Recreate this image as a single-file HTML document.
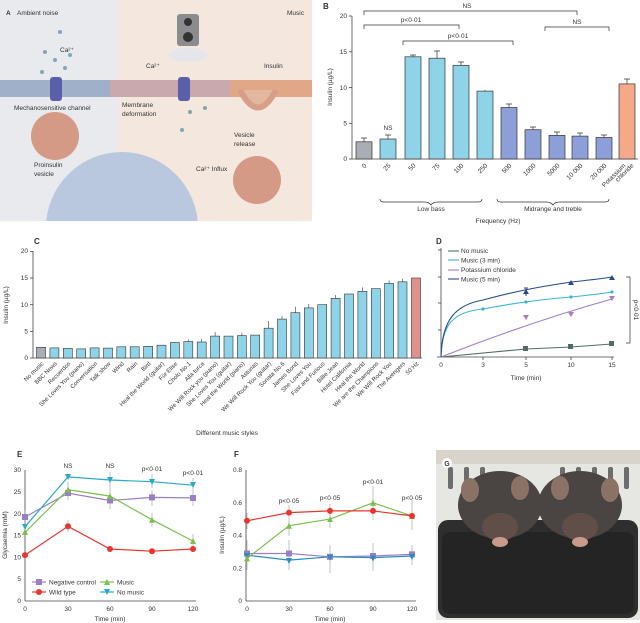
<!DOCTYPE html>
<html><head><meta charset="utf-8"><style>
html,body{margin:0;padding:0;background:#fff}
svg{display:block;font-family:"Liberation Sans",sans-serif}
</style></head><body>
<svg width="640" height="623" viewBox="0 0 640 623" xmlns="http://www.w3.org/2000/svg">
<defs><clipPath id="ca"><rect x="0" y="0" width="312" height="221"/></clipPath></defs>
<!-- Panel A -->
<g clip-path="url(#ca)">
<rect x="0" y="0" width="312" height="221" fill="#e9eaee"/>
<rect x="118" y="0" width="194" height="221" fill="#f4e7de"/>
<circle cx="122" cy="228" r="76" fill="#b9c8de"/>
<rect x="0" y="80" width="312" height="17" fill="#c9a9ae"/>
<rect x="0" y="80" width="110" height="17" fill="#9fb0c8"/>
<rect x="230" y="80" width="82" height="17" fill="#e0a888"/>
<path d="M240,90 Q258,125 276,90" fill="#e4b79f" stroke="#d79e88" stroke-width="6"/>
<rect x="50" y="77" width="12" height="24" rx="3" fill="#5b5fa8"/>
<rect x="178" y="77" width="12" height="24" rx="3" fill="#5b5fa8"/>
<rect x="177" y="14" width="22" height="32" rx="3" fill="#8c8c90"/>
<circle cx="188" cy="22" r="4" fill="#333"/><circle cx="188" cy="37" r="5" fill="#333"/>
<ellipse cx="188" cy="55" rx="20" ry="7" fill="#e6e6ea"/>
<circle cx="55" cy="136" r="24" fill="#d49a86"/>
<circle cx="257" cy="180" r="24" fill="#d49a86"/>
<g fill="#7fa8b5"><circle cx="60" cy="32" r="2"/><circle cx="45" cy="52" r="2"/><circle cx="55" cy="60" r="2"/><circle cx="65" cy="68" r="2"/><circle cx="42" cy="72" r="2"/><circle cx="70" cy="55" r="2"/><circle cx="190" cy="112" r="2"/><circle cx="182" cy="130" r="2"/><circle cx="205" cy="108" r="2"/></g>
<g font-size="6.5" fill="#333">
<text x="6" y="15" font-weight="bold">A</text><text x="17" y="15">Ambient noise</text>
<text x="287" y="15">Music</text>
<text x="60" y="52">Ca²⁺</text><text x="146" y="68">Ca²⁺</text>
<text x="264" y="68">Insulin</text>
<text x="14" y="110">Mechanosensitive channel</text>
<text x="122" y="107">Membrane</text><text x="122" y="116">deformation</text>
<text x="234" y="137">Vesicle</text><text x="234" y="146">release</text>
<text x="196" y="171">Ca²⁺ Influx</text>
<text x="34" y="167">Proinsulin</text><text x="34" y="176">vesicle</text>
</g>
</g>
<!-- Panel B -->
<g font-size="6.5" fill="#333">
<text x="323" y="9" font-weight="bold" font-size="8">B</text>
<line x1="352" y1="16" x2="352" y2="159" stroke="#444" stroke-width="0.8"/>
<line x1="352" y1="159" x2="638" y2="159" stroke="#444" stroke-width="0.8"/>
<g stroke="#444" stroke-width="0.8"><line x1="349" y1="159" x2="352" y2="159"/><line x1="349" y1="123.3" x2="352" y2="123.3"/><line x1="349" y1="87.5" x2="352" y2="87.5"/><line x1="349" y1="51.8" x2="352" y2="51.8"/><line x1="349" y1="16" x2="352" y2="16"/></g>
<g text-anchor="end"><text x="347" y="161">0</text><text x="347" y="125.5">5</text><text x="347" y="90">10</text><text x="347" y="54">15</text><text x="347" y="18">20</text></g>
<text transform="translate(332,87) rotate(-90)" text-anchor="middle">Insulin (µg/L)</text>
<g stroke="#333" stroke-width="0.7">
<rect x="356" y="141.8" width="16" height="17.2" fill="#a9adb4"/>
<rect x="380" y="139" width="16" height="20" fill="#8fd3e8"/>
<rect x="405" y="56.8" width="16" height="102.2" fill="#8fd3e8"/>
<rect x="429" y="58.2" width="16" height="100.8" fill="#8fd3e8"/>
<rect x="453" y="65.3" width="16" height="93.7" fill="#8fd3e8"/>
<rect x="477" y="91.1" width="16" height="67.9" fill="#8fd3e8"/>
<rect x="501" y="107.5" width="16" height="51.5" fill="#8d9fd8"/>
<rect x="525" y="129.7" width="16" height="29.3" fill="#8d9fd8"/>
<rect x="549" y="135.4" width="16" height="23.6" fill="#8d9fd8"/>
<rect x="572" y="136.1" width="16" height="22.9" fill="#8d9fd8"/>
<rect x="596" y="137.5" width="16" height="21.5" fill="#8d9fd8"/>
<rect x="619" y="83.9" width="16" height="75.1" fill="#f5a98a"/>
<path d="M364,141.8V138M361,138h6M388,139V135M385,135h6M413,56.8V55M410,55h6M437,58.2V51M434,51h6M461,65.3V62M458,62h6M485,91V90M509,107.5V104M506,104h6M533,129.7V127M530,127h6M557,135.4V132M554,132h6M580,136V133M577,133h6M604,137.5V135M601,135h6M627,83.9V79M624,79h6" fill="none"/>
<path d="M364,15V11H577V15M364,29V25H459V29M403,45V41H513V45M545,31V27H609V31" fill="none"/>
<path d="M380,199q0,3 4,3h40q5,0 7,3q2,-3 7,-3h40q4,0 4,-3M497,199q0,3 4,3h45q5,0 7,3q2,-3 7,-3h45q4,0 4,-3" fill="none"/>
</g>
<text x="467" y="8" text-anchor="middle">NS</text>
<text x="411" y="22" text-anchor="middle">p&lt;0·01</text>
<text x="458" y="38" text-anchor="middle">p&lt;0·01</text>
<text x="577" y="24" text-anchor="middle">NS</text>
<text x="388" y="130" text-anchor="middle">NS</text>
<g text-anchor="end">
<text transform="translate(367,166) rotate(-45)">0</text>
<text transform="translate(391,166) rotate(-45)">25</text>
<text transform="translate(416,166) rotate(-45)">50</text>
<text transform="translate(440,166) rotate(-45)">75</text>
<text transform="translate(464,166) rotate(-45)">100</text>
<text transform="translate(488,166) rotate(-45)">250</text>
<text transform="translate(512,166) rotate(-45)">500</text>
<text transform="translate(536,166) rotate(-45)">1000</text>
<text transform="translate(560,166) rotate(-45)">5000</text>
<text transform="translate(583,166) rotate(-45)">10 000</text>
<text transform="translate(607,166) rotate(-45)">20 000</text>
<text transform="translate(626,166) rotate(-45)">Potassium</text>
<text transform="translate(634,166) rotate(-45)">chloride</text>
</g>
<text x="431" y="211" text-anchor="middle">Low bass</text>
<text x="553" y="211" text-anchor="middle">Midrange and treble</text>
<text x="498" y="223" text-anchor="middle">Frequency (Hz)</text>
</g>
<!-- Panel C -->
<g font-size="6.5" fill="#333">
<text x="34" y="244" font-weight="bold" font-size="8">C</text>
<line x1="33" y1="251" x2="33" y2="358" stroke="#444" stroke-width="0.8"/>
<line x1="33" y1="358" x2="422" y2="358" stroke="#444" stroke-width="0.8"/>
<g stroke="#444" stroke-width="0.8"><line x1="30" y1="358" x2="33" y2="358"/><line x1="30" y1="331.4" x2="33" y2="331.4"/><line x1="30" y1="304.7" x2="33" y2="304.7"/><line x1="30" y1="278" x2="33" y2="278"/><line x1="30" y1="251.4" x2="33" y2="251.4"/></g>
<g text-anchor="end"><text x="28" y="360">0</text><text x="28" y="333.5">5</text><text x="28" y="307">10</text><text x="28" y="280">15</text><text x="28" y="253">20</text></g>
<text transform="translate(8,305) rotate(-90)" text-anchor="middle">Insulin (µg/L)</text>
<g stroke="#333" stroke-width="0.6" fill="#8fd3e8">
<rect x="36.5" y="347.3" width="9" height="10.7" fill="#a9adb4"/>
<rect x="49.9" y="347.9" width="9" height="10.1"/>
<rect x="63.3" y="348.4" width="9" height="9.6"/>
<rect x="76.7" y="348.9" width="9" height="9.1"/>
<rect x="90.1" y="347.9" width="9" height="10.1"/>
<rect x="103.5" y="348.1" width="9" height="9.9"/>
<rect x="116.8" y="346.8" width="9" height="11.2"/>
<rect x="130.2" y="346.8" width="9" height="11.2"/>
<rect x="143.6" y="346.3" width="9" height="11.7"/>
<rect x="157" y="345.2" width="9" height="12.8"/>
<rect x="170.4" y="342.5" width="9" height="15.5"/>
<rect x="183.8" y="341.5" width="9" height="16.5"/>
<rect x="197.2" y="342" width="9" height="16"/>
<rect x="210.6" y="336.1" width="9" height="21.9"/>
<rect x="224" y="336.1" width="9" height="21.9"/>
<rect x="237.4" y="335.6" width="9" height="22.4"/>
<rect x="250.7" y="335.1" width="9" height="22.9"/>
<rect x="264.1" y="328.2" width="9" height="29.8"/>
<rect x="277.5" y="319.1" width="9" height="38.9"/>
<rect x="290.9" y="312.7" width="9" height="45.3"/>
<rect x="304.3" y="307.9" width="9" height="50.1"/>
<rect x="317.7" y="304.7" width="9" height="53.3"/>
<rect x="331.1" y="298.3" width="9" height="59.7"/>
<rect x="344.5" y="294" width="9" height="64"/>
<rect x="357.9" y="291.4" width="9" height="66.6"/>
<rect x="371.3" y="288.7" width="9" height="69.3"/>
<rect x="384.6" y="283.4" width="9" height="74.6"/>
<rect x="398" y="281.8" width="9" height="76.2"/>
<rect x="411.5" y="278" width="9" height="80" fill="#e0918c"/>
<path d="M188.3,341.5v-2M201.7,342v-3M215.1,336v-4M241.9,335.6v-3M268.6,328v-7M282,319v-3M295.4,312.7v-6M308.8,308v-4M335.6,298v-3M362.4,291.4v-4M389.1,283.4v-3M402.5,281.8v-3" fill="none"/>
</g>
<g text-anchor="end" font-size="6">
<text transform="translate(44,364) rotate(-45)">No music</text>
<text transform="translate(57.4,364) rotate(-45)">BBC News</text>
<text transform="translate(70.8,364) rotate(-45)">Recuerdos</text>
<text transform="translate(84.2,364) rotate(-45)">She Loves You (piano)</text>
<text transform="translate(97.6,364) rotate(-45)">Conversation</text>
<text transform="translate(111,364) rotate(-45)">Talk show</text>
<text transform="translate(124.3,364) rotate(-45)">Wind</text>
<text transform="translate(137.7,364) rotate(-45)">Rain</text>
<text transform="translate(151.1,364) rotate(-45)">Bird</text>
<text transform="translate(164.5,364) rotate(-45)">Heal the World (guitar)</text>
<text transform="translate(177.9,364) rotate(-45)">Für Elise</text>
<text transform="translate(191.3,364) rotate(-45)">Cholo No.1</text>
<text transform="translate(204.7,364) rotate(-45)">Alla turca</text>
<text transform="translate(218.1,364) rotate(-45)">We Will Rock you (piano)</text>
<text transform="translate(231.5,364) rotate(-45)">She Loves You (guitar)</text>
<text transform="translate(244.9,364) rotate(-45)">Heal the World (piano)</text>
<text transform="translate(258.2,364) rotate(-45)">Asturias</text>
<text transform="translate(271.6,364) rotate(-45)">We Will Rock You (guitar)</text>
<text transform="translate(285,364) rotate(-45)">Sonata No.6</text>
<text transform="translate(298.4,364) rotate(-45)">James Bond</text>
<text transform="translate(311.8,364) rotate(-45)">She Loves You</text>
<text transform="translate(325.2,364) rotate(-45)">Fast and Furious</text>
<text transform="translate(338.6,364) rotate(-45)">Billie Jean</text>
<text transform="translate(352,364) rotate(-45)">Hotel California</text>
<text transform="translate(365.4,364) rotate(-45)">Heal the World</text>
<text transform="translate(378.8,364) rotate(-45)">We are the Champions</text>
<text transform="translate(392.1,364) rotate(-45)">We Will Rock You</text>
<text transform="translate(405.5,364) rotate(-45)">The Avengers</text>
<text transform="translate(419,364) rotate(-45)">50 Hz</text>
</g>
<text x="227" y="435" text-anchor="middle">Different music styles</text>
</g>
<!-- Panel D -->
<g font-size="6.5" fill="#333">
<text x="436" y="244" font-weight="bold" font-size="8">D</text>
<line x1="441" y1="248" x2="441" y2="357" stroke="#444" stroke-width="0.8"/>
<line x1="437" y1="357" x2="614" y2="357" stroke="#444" stroke-width="0.8"/>
<g stroke="#444" stroke-width="0.8"><line x1="438" y1="330" x2="441" y2="330"/><line x1="438" y1="303" x2="441" y2="303"/><line x1="438" y1="277" x2="441" y2="277"/><line x1="438" y1="250" x2="441" y2="250"/>
<line x1="483" y1="357" x2="483" y2="360"/><line x1="526" y1="357" x2="526" y2="360"/><line x1="571" y1="357" x2="571" y2="360"/><line x1="612" y1="357" x2="612" y2="360"/></g>
<g text-anchor="middle"><text x="441" y="367">0</text><text x="483" y="367">3</text><text x="526" y="367">5</text><text x="571" y="367">10</text><text x="612" y="367">15</text></g>
<text x="526" y="380" text-anchor="middle">Time (min)</text>
<g fill="none" stroke-width="1.1">
<path d="M441,357L526,349L571,347L612,344" stroke="#4f6e6a"/>
<path d="M441,357Q530,322 612,299" stroke="#a77cc9"/>
<path d="M441,357C442,325 452,312 483,309C520,302 545,299 571,297C590,295 600,294 612,292" stroke="#3bb6d0"/>
<path d="M441,357C442,320 455,305 483,300C520,290 545,286 571,282C590,280 600,279 612,277" stroke="#2a4a8a"/>
<line x1="448" y1="251" x2="459" y2="251" stroke="#4f6e6a"/>
<line x1="448" y1="260" x2="459" y2="260" stroke="#3bb6d0"/>
<line x1="448" y1="270" x2="459" y2="270" stroke="#a77cc9"/>
<line x1="448" y1="279" x2="459" y2="279" stroke="#2a4a8a"/>
<path d="M626,277h4V343h-4" stroke="#333" stroke-width="0.7"/>
</g>
<g fill="#4f6e6a"><rect x="523" y="346" width="5" height="5"/><rect x="568" y="344" width="5" height="5"/><rect x="609" y="341" width="5" height="5"/></g>
<g fill="#a77cc9"><path d="M523,315h6l-3,5z"/><path d="M568,312h6l-3,5z"/><path d="M609,296h6l-3,5z"/></g>
<g fill="#3bb6d0"><circle cx="483" cy="309" r="1.6"/><circle cx="526" cy="302" r="1.6"/><circle cx="571" cy="297" r="1.6"/><circle cx="612" cy="292" r="1.6"/></g>
<g fill="#2a4a8a"><path d="M523,294h6l-3,-5z"/><path d="M568,285h6l-3,-5z"/><path d="M609,280h6l-3,-5z"/><path d="M526,288v8M524,288h4" stroke="#2a4a8a"/></g>
<text x="461" y="253">No music</text><text x="461" y="262.5">Music (3 min)</text><text x="461" y="272">Potassium chloride</text><text x="461" y="281.5">Music (5 min)</text>
<text transform="translate(634,310) rotate(90)" text-anchor="middle">p&lt;0·01</text>
</g>
<!-- Panel E -->
<g font-size="6.5" fill="#333">
<text x="17" y="457" font-weight="bold" font-size="8">E</text>
<line x1="25" y1="470" x2="25" y2="601" stroke="#444" stroke-width="0.8"/>
<line x1="25" y1="601" x2="196" y2="601" stroke="#444" stroke-width="0.8"/>
<g text-anchor="end"><text x="21" y="603">0</text><text x="21" y="581">5</text><text x="21" y="559.5">10</text><text x="21" y="537.5">15</text><text x="21" y="516">20</text><text x="21" y="494">25</text><text x="21" y="472">30</text></g>
<g text-anchor="middle"><text x="25" y="611">0</text><text x="68" y="611">30</text><text x="110" y="611">60</text><text x="152" y="611">90</text><text x="193" y="611">120</text></g>
<text x="110" y="621" text-anchor="middle">Time (min)</text>
<text transform="translate(7,535) rotate(-90)" text-anchor="middle">Glycaemia (mM)</text>
<text x="68" y="468" text-anchor="middle">NS</text><text x="110" y="468" text-anchor="middle">NS</text>
<text x="152" y="471" text-anchor="middle">p&lt;0·01</text><text x="193" y="475" text-anchor="middle">p&lt;0·01</text>
<g fill="none" stroke-width="1.2">
<polyline points="25,517.1 68,493.1 110,500.5 152,497.4 193,497.9" stroke="#9b7fc6"/>
<polyline points="25,555.1 68,526.3 110,549 152,551.2 193,549" stroke="#e8352e"/>
<polyline points="25,532.4 68,489.6 110,496.1 152,519.7 193,541.1" stroke="#7bbf4e"/>
<polyline points="25,526.7 68,476.9 110,480 152,481.7 193,485.2" stroke="#2aa9c9"/>
<path d="M68,486v14M110,493v16M152,490v16M193,488v18M68,482v16M110,488v14M152,513v14M193,534v14M68,520v12M25,510v14M110,472v16M152,474v14M193,478v14" stroke="#999" stroke-width="0.6"/>
</g>
<g fill="#9b7fc6"><rect x="22" y="514" width="6" height="6"/><rect x="65" y="490" width="6" height="6"/><rect x="107" y="497.5" width="6" height="6"/><rect x="149" y="494.4" width="6" height="6"/><rect x="190" y="495" width="6" height="6"/></g>
<g fill="#e8352e"><circle cx="25" cy="555.1" r="3"/><circle cx="68" cy="526.3" r="3"/><circle cx="110" cy="549" r="3"/><circle cx="152" cy="551.2" r="3"/><circle cx="193" cy="549" r="3"/></g>
<g fill="#7bbf4e"><path d="M22,535h6l-3,-6z"/><path d="M65,492.6h6l-3,-6z"/><path d="M107,499h6l-3,-6z"/><path d="M149,522.7h6l-3,-6z"/><path d="M190,544h6l-3,-6z"/></g>
<g fill="#2aa9c9"><path d="M22,524h6l-3,6z"/><path d="M65,474h6l-3,6z"/><path d="M107,477h6l-3,6z"/><path d="M149,479h6l-3,6z"/><path d="M190,482h6l-3,6z"/></g>
<line x1="32" y1="582" x2="46" y2="582" stroke="#9b7fc6" stroke-width="1.2"/><rect x="36" y="579" width="6" height="6" fill="#9b7fc6"/>
<line x1="32" y1="592" x2="46" y2="592" stroke="#e8352e" stroke-width="1.2"/><circle cx="39" cy="592" r="3" fill="#e8352e"/>
<line x1="100" y1="582" x2="114" y2="582" stroke="#7bbf4e" stroke-width="1.2"/><path d="M104,585h6l-3,-6z" fill="#7bbf4e"/>
<line x1="100" y1="592" x2="114" y2="592" stroke="#2aa9c9" stroke-width="1.2"/><path d="M104,589h6l-3,6z" fill="#2aa9c9"/>
<text x="49" y="584.5">Negative control</text><text x="49" y="594.5">Wild type</text>
<text x="117" y="584.5">Music</text><text x="117" y="594.5">No music</text>
</g>
<!-- Panel F -->
<g font-size="6.5" fill="#333">
<text x="234" y="457" font-weight="bold" font-size="8">F</text>
<line x1="246" y1="470" x2="246" y2="601" stroke="#444" stroke-width="0.8"/>
<line x1="246" y1="601" x2="416" y2="601" stroke="#444" stroke-width="0.8"/>
<g text-anchor="end"><text x="242" y="603">0</text><text x="242" y="570.5">0.2</text><text x="242" y="537.5">0.4</text><text x="242" y="505">0.6</text><text x="242" y="472">0.8</text></g>
<g text-anchor="middle"><text x="247" y="611">0</text><text x="289" y="611">30</text><text x="330" y="611">60</text><text x="373" y="611">90</text><text x="412" y="611">120</text></g>
<text x="330" y="621" text-anchor="middle">Time (min)</text>
<text transform="translate(224,535) rotate(-90)" text-anchor="middle">Insulin (µg/L)</text>
<text x="289" y="503" text-anchor="middle">p&lt;0·05</text><text x="330" y="500" text-anchor="middle">p&lt;0·05</text>
<text x="373" y="484" text-anchor="middle">p&lt;0·01</text><text x="412" y="500" text-anchor="middle">p&lt;0·05</text>
<g fill="none" stroke-width="1.2">
<path d="M247,513v16M289,505v14M330,504v14M373,507v10M412,509v14M289,516v20M330,512v16M373,486v34M412,500v30M247,540v30M289,540v30M330,545v28M373,543v28M412,545v20M289,548v22M330,546v26" stroke="#999" stroke-width="0.6"/>
<polyline points="247,553.5 289,553.5 330,556.8 373,556 412,554.3" stroke="#9b7fc6"/>
<polyline points="247,555.2 289,560.1 330,556.8 373,557.6 412,556" stroke="#2a8cc0"/>
<polyline points="247,558.4 289,525.7 330,519.1 373,502.8 412,515.9" stroke="#7bbf4e"/>
<polyline points="247,520.8 289,512.6 330,510.9 373,510.9 412,515.9" stroke="#e8352e"/>
</g>
<g fill="#9b7fc6"><rect x="244" y="550.5" width="6" height="6"/><rect x="286" y="550.5" width="6" height="6"/><rect x="327" y="553.8" width="6" height="6"/><rect x="370" y="553" width="6" height="6"/><rect x="409" y="551.3" width="6" height="6"/></g>
<g fill="#2a8cc0"><path d="M244,553h6l-3,6z"/><path d="M286,558h6l-3,6z"/><path d="M327,554.8h6l-3,6z"/><path d="M370,555.6h6l-3,6z"/><path d="M409,554h6l-3,6z"/></g>
<g fill="#7bbf4e"><path d="M244,561.4h6l-3,-6z"/><path d="M286,528.7h6l-3,-6z"/><path d="M327,522h6l-3,-6z"/><path d="M370,505.8h6l-3,-6z"/><path d="M409,519h6l-3,-6z"/></g>
<g fill="#e8352e"><circle cx="247" cy="520.8" r="3"/><circle cx="289" cy="512.6" r="3"/><circle cx="330" cy="510.9" r="3"/><circle cx="373" cy="510.9" r="3"/><circle cx="412" cy="515.9" r="3"/></g>
</g>
<!-- Panel G -->
<rect x="436" y="450" width="204" height="170" fill="#e6e6e3"/>
<rect x="436" y="450" width="204" height="14" fill="#d8d4cc"/>
<g fill="#6d6d6d"><rect x="448" y="467" width="5" height="22" rx="2"/><rect x="464" y="467" width="5" height="22" rx="2"/><rect x="480" y="467" width="5" height="22" rx="2"/><rect x="560" y="467" width="5" height="22" rx="2"/><rect x="576" y="467" width="5" height="22" rx="2"/><rect x="592" y="467" width="5" height="22" rx="2"/><rect x="608" y="467" width="5" height="22" rx="2"/><rect x="624" y="467" width="5" height="22" rx="2"/></g>
<rect x="438" y="520" width="200" height="98" rx="10" fill="#2e2e2e"/>
<rect x="442" y="532" width="192" height="82" rx="8" fill="#242424"/>
<ellipse cx="500" cy="505" rx="42" ry="34" fill="#4a4442"/>
<ellipse cx="580" cy="505" rx="42" ry="34" fill="#4a4442"/>
<ellipse cx="500" cy="527" rx="18" ry="14" fill="#5f4f48"/>
<ellipse cx="580" cy="527" rx="18" ry="14" fill="#5f4f48"/>
<ellipse cx="500" cy="542" rx="8" ry="5" fill="#c89a8c"/>
<ellipse cx="580" cy="542" rx="8" ry="5" fill="#c89a8c"/>
<ellipse cx="470" cy="490" rx="9" ry="12" fill="#8a7266"/><ellipse cx="520" cy="488" rx="9" ry="12" fill="#8a7266"/>
<ellipse cx="560" cy="488" rx="9" ry="12" fill="#8a7266"/><ellipse cx="610" cy="490" rx="9" ry="12" fill="#8a7266"/>
<circle cx="447" cy="463" r="5" fill="#fff"/><text x="447" y="466" font-size="7" font-weight="bold" text-anchor="middle" fill="#333">G</text>
</svg>
</body></html>
